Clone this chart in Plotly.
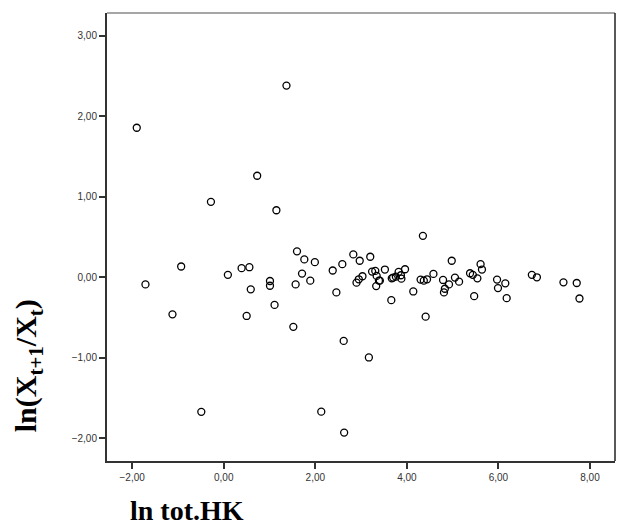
import plotly.graph_objects as go

# ln tot.HK
x_vals = [-1.90, -1.71, -0.93, -1.12, -0.49, -0.28, 0.09, 0.39, 0.56, 0.59,
          0.50, 0.73, 1.01, 1.01, 1.11, 1.15, 1.37, 1.52, 1.57, 1.60,
          1.71, 1.76, 1.89, 1.99, 2.13, 2.38, 2.46, 2.59, 2.62, 2.63,
          2.83, 2.90, 2.95, 2.97, 3.03, 3.17, 3.20, 3.24, 3.31, 3.34,
          3.33, 3.39, 3.41, 3.52, 3.66, 3.67, 3.70, 3.76, 3.82, 3.87,
          3.88, 3.96, 4.14, 4.30, 4.35, 4.37, 4.44, 4.41, 4.58, 4.79,
          4.81, 4.83, 4.92, 4.98, 5.05, 5.14, 5.38, 5.44, 5.47, 5.54,
          5.61, 5.64, 5.97, 5.99, 6.15, 6.18, 6.73, 6.84, 7.42, 7.71,
          7.77]
# ln(X_{t+1}/X_t)
y_vals = [1.856, -0.088, 0.134, -0.46, -1.67, 0.936, 0.03, 0.113, 0.125, -0.15,
          -0.48, 1.26, -0.046, -0.105, -0.343, 0.832, 2.379, -0.615, -0.088, 0.322,
          0.046, 0.222, -0.042, 0.188, -1.668, 0.084, -0.188, 0.163, -0.79, -1.927,
          0.284, -0.067, -0.025, 0.205, 0.013, -0.995, 0.255, 0.071, 0.079, 0.017,
          -0.109, -0.042, -0.042, 0.096, -0.284, -0.013, -0.004, 0.008, 0.067, 0.025,
          -0.017, 0.10, -0.176, -0.029, 0.514, -0.042, -0.025, -0.489, 0.042, -0.033,
          -0.188, -0.142, -0.088, 0.205, -0.004, -0.054, 0.05, 0.03, -0.234, -0.013,
          0.163, 0.096, -0.029, -0.134, -0.075, -0.259, 0.03, 0.0, -0.063, -0.071,
          -0.263]

x_ticks = [-2, 0, 2, 4, 6, 8]
y_ticks = [-2, -1, 0, 1, 2, 3]

fig = go.Figure()
fig.add_trace(go.Scatter(
    x=x_vals, y=y_vals, mode="markers",
    marker=dict(symbol="circle-open", size=7, color="black", line=dict(width=1.3)),
    showlegend=False, hoverinfo="skip"))

tickfont = dict(family="Liberation Sans, Arial, sans-serif", size=10, color="#333333")
fig.update_layout(
    width=623, height=529,
    margin=dict(l=107, r=8, t=13, b=68),
    paper_bgcolor="white", plot_bgcolor="white",
    separators=",.",
    xaxis=dict(range=[-2.55, 8.546], tickvals=x_ticks, tickformat=".2f",
               showgrid=False, zeroline=False, showline=True, linecolor="#333333",
               linewidth=2, ticks="outside", ticklen=6, tickcolor="#333333",
               tickwidth=1.5, tickfont=tickfont),
    yaxis=dict(range=[-2.28, 3.28], tickvals=y_ticks, tickformat=".2f",
               showgrid=False, zeroline=False, showline=True, linecolor="#333333",
               linewidth=2, ticks="outside", ticklen=6, tickcolor="#333333",
               tickwidth=1.5, tickfont=tickfont),
    shapes=[
        dict(type="line", xref="paper", yref="paper", x0=0, x1=1, y0=1, y1=1,
             line=dict(color="#888888", width=1.5)),
        dict(type="line", xref="paper", yref="paper", x0=1, x1=1, y0=0, y1=1,
             line=dict(color="#222222", width=1.5)),
    ],
    annotations=[
        dict(text="<b>ln tot.HK</b>", xref="paper", yref="paper",
             x=0.1575, y=-0.1505, xanchor="center", yanchor="bottom", showarrow=False,
             font=dict(family="Liberation Serif, Times New Roman, serif", size=28, color="black")),
        dict(text="<b>ln(X<sub>t+1</sub>/X<sub>t</sub>)</b>", xref="paper", yref="paper",
             x=-0.155, y=0.212, xanchor="center", yanchor="middle", showarrow=False,
             textangle=-90,
             font=dict(family="Liberation Serif, Times New Roman, serif", size=30, color="black")),
    ],
)

fig.write_html("out.html")
